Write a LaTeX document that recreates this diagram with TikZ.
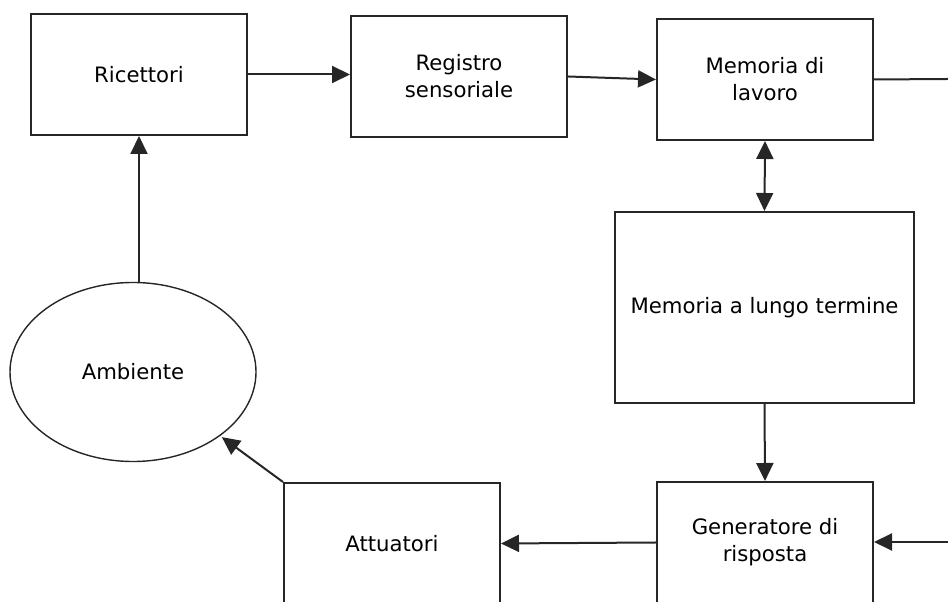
\documentclass[tikz,border=0pt]{standalone}
\usepackage{fontspec}
\setmainfont{DejaVu Sans}
\usetikzlibrary{arrows.meta,shapes.geometric}

\begin{document}
\begin{tikzpicture}[x=1bp,y=1bp,
  box/.style={draw=black!85, line width=2bp, rectangle, minimum width=216bp, minimum height=121bp,
    align=center, inner sep=0pt, font=\fontsize{21.3}{27}\selectfont},
  arr/.style={draw=black!85, line width=2bp, -{Triangle[length=18bp, width=17bp]}}]
\useasboundingbox (0,0) rectangle (948,602);
\node[box] (ric) at (139,527.5) {Ricettori};
\node[box] (reg) at (459,525.5) {Registro\\sensoriale};
\node[box] (mdl) at (765,522.5) {Memoria di\\lavoro};
\node[box, minimum width=299bp, minimum height=191bp] (ltm) at (764.5,294.5) {Memoria a lungo termine};
\node[box] (gen) at (765,59.5) {Generatore di\\risposta};
\node[box] (att) at (392,58.5) {Attuatori};
\node[draw=black!85, line width=1.4bp, ellipse, minimum width=246bp, minimum height=179bp, inner sep=0pt,
  font=\fontsize{21.3}{27}\selectfont] (amb) at (133,230) {Ambiente};
\coordinate (fuori1) at (948,523);
\coordinate (fuori2) at (948,60);
\draw[arr] (ric.east) -- (ric.east -| reg.west);
\draw[arr] (reg.east) -- (mdl.west);
\draw[draw=black!85, line width=2bp] (mdl.east) -- (fuori1);
\draw[arr, {Triangle[length=18bp, width=17bp]}-{Triangle[length=18bp, width=17bp]}] (mdl.south) -- (ltm.north);
\draw[arr] (ltm.south) -- (gen.north);
\draw[arr] (fuori2) -- (fuori2 -| gen.east);
\draw[arr] (gen.west) -- (att.east);
\draw[arr, shorten >=2bp] (att.north west) -- (amb);
\draw[arr] (ric.south |- amb.north) -- (ric.south);
\end{tikzpicture}
\end{document}
